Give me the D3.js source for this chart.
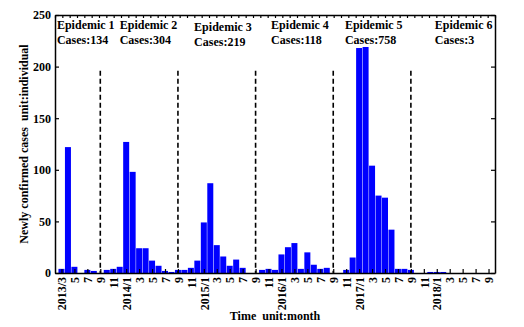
<!DOCTYPE html>
<html>
<head>
<meta charset="utf-8">
<script src="https://cdn.jsdelivr.net/npm/d3@7"></script>
<style>
  body { margin: 0; background: #fff; }
  text { font-family: "Liberation Serif", "Times New Roman", serif; font-weight: bold; }
</style>
</head>
<body>
<svg id="chart" width="524" height="327"></svg>
<script>
// monthly new cases, 2013/3 .. 2018/9
const cases = [
  4, 122, 6, 0, 3, 2, 0, 3, 4, 6,
  127, 98, 24, 24, 12, 7, 2, 1, 3, 3,
  5, 12, 49, 87, 27, 16, 7, 13, 5, 0,
  0, 3, 4, 3, 18, 25, 29, 4, 20, 8,
  4, 5, 0, 0, 3, 15, 218, 219, 104, 75,
  73, 42, 4, 4, 3, 0, 0, 1, 1, 1,
  0, 0, 0, 0, 0, 0, 0
];
const tickLabels = [
  '2013/3', '5', '7', '9', '11',
  '2014/1', '3', '5', '7', '9', '11',
  '2015/1', '3', '5', '7', '9', '11',
  '2016/1', '3', '5', '7', '9', '11',
  '2017/1', '3', '5', '7', '9', '11',
  '2018/1', '3', '5', '7', '9'
];
const yTicks = [0, 50, 100, 150, 200, 250];
// dividing lines at each September (month index, 1 = 2013/3)
const dividers = [7, 19, 31, 43, 55];
const epidemics = ['Epidemic 1', 'Epidemic 2', 'Epidemic 3', 'Epidemic 4', 'Epidemic 5', 'Epidemic 6'];
const epidemicCases = [134, 304, 219, 118, 758, 3];
const epidemicLabelMonth = [0.3, 10, 21.5, 33.4, 44.8, 58.7];

const margin = {top: 15, right: 29, bottom: 54, left: 55};
const width = 524, height = 327;
const svg = d3.select('#chart');

const x = d3.scaleLinear().domain([0, 68]).range([margin.left, width - margin.right]);
const y = d3.scaleLinear().domain([0, 250]).range([height - margin.bottom, margin.top]);
const barW = 6;

// bars
svg.append('g').selectAll('rect')
  .data(cases)
  .join('rect')
  .attr('x', (d, i) => x(i + 1) - barW / 2)
  .attr('y', d => y(d))
  .attr('width', barW)
  .attr('height', d => y(0) - y(d))
  .attr('fill', '#0000ff');

// dashed separators
svg.append('g').selectAll('line')
  .data(dividers)
  .join('line')
  .attr('x1', d => x(d)).attr('x2', d => x(d))
  .attr('y1', y(196)).attr('y2', y(0))
  .attr('stroke', '#000')
  .attr('stroke-width', 1.6)
  .attr('stroke-dasharray', '5,3');

// bottom axis (ticks inward, every 2 months)
const xAxis = d3.axisBottom(x)
  .tickValues(d3.range(1, 68, 2))
  .tickFormat((d, i) => tickLabels[i])
  .tickSizeInner(-4)
  .tickSizeOuter(0);
const gx = svg.append('g')
  .attr('transform', `translate(0,${y(0)})`)
  .call(xAxis);
gx.selectAll('text')
  .attr('transform', 'rotate(-90)')
  .attr('text-anchor', 'end')
  .attr('x', -4)
  .attr('y', 0)
  .attr('dy', '0.35em')
  .style('font-size', '12px')
  .attr('fill', '#000');

// top axis ticks (inward)
const xTop = d3.scaleLinear().domain([0, 60]).range([margin.left, width - margin.right]);
svg.append('g')
  .attr('transform', `translate(0,${margin.top})`)
  .call(d3.axisTop(xTop).ticks(60).tickSizeInner(-3).tickSizeOuter(0).tickFormat(''));

// left and right axes
const gy = svg.append('g')
  .attr('transform', `translate(${margin.left},0)`)
  .call(d3.axisLeft(y).tickValues(yTicks).tickSizeInner(-4).tickSizeOuter(0).tickPadding(4));
gy.selectAll('text').style('font-size', '12px').attr('fill', '#000');
svg.append('g')
  .attr('transform', `translate(${width - margin.right},0)`)
  .call(d3.axisRight(y).tickValues(yTicks).tickSizeInner(-4).tickSizeOuter(0).tickFormat(''));

svg.selectAll('.domain').attr('stroke', '#000').attr('stroke-width', 1.5);
svg.selectAll('.tick line').attr('stroke', '#000').attr('stroke-width', 1.2);

// epidemic annotations
const ann = svg.append('g').selectAll('g')
  .data(epidemics)
  .join('g')
  .attr('transform', (d, i) => `translate(${x(epidemicLabelMonth[i])},${i === 2 ? 31 : 29})`);
ann.append('text')
  .style('font-size', '12px')
  .text(d => d);
ann.append('text')
  .attr('y', 14.5)
  .style('font-size', '12px')
  .text((d, i) => `Cases:${epidemicCases[i]}`);

// axis titles
svg.append('text')
  .attr('x', (margin.left + width - margin.right) / 2)
  .attr('y', 320)
  .attr('text-anchor', 'middle')
  .style('font-size', '12px')
  .text('Time\u00a0\u00a0unit:month');
svg.append('text')
  .attr('transform', `translate(28,${(y(0) + y(250)) / 2}) rotate(-90)`)
  .attr('text-anchor', 'middle')
  .style('font-size', '12px')
  .text('Newly confirmed cases\u00a0\u00a0unit:individual');
</script>
</body>
</html>
